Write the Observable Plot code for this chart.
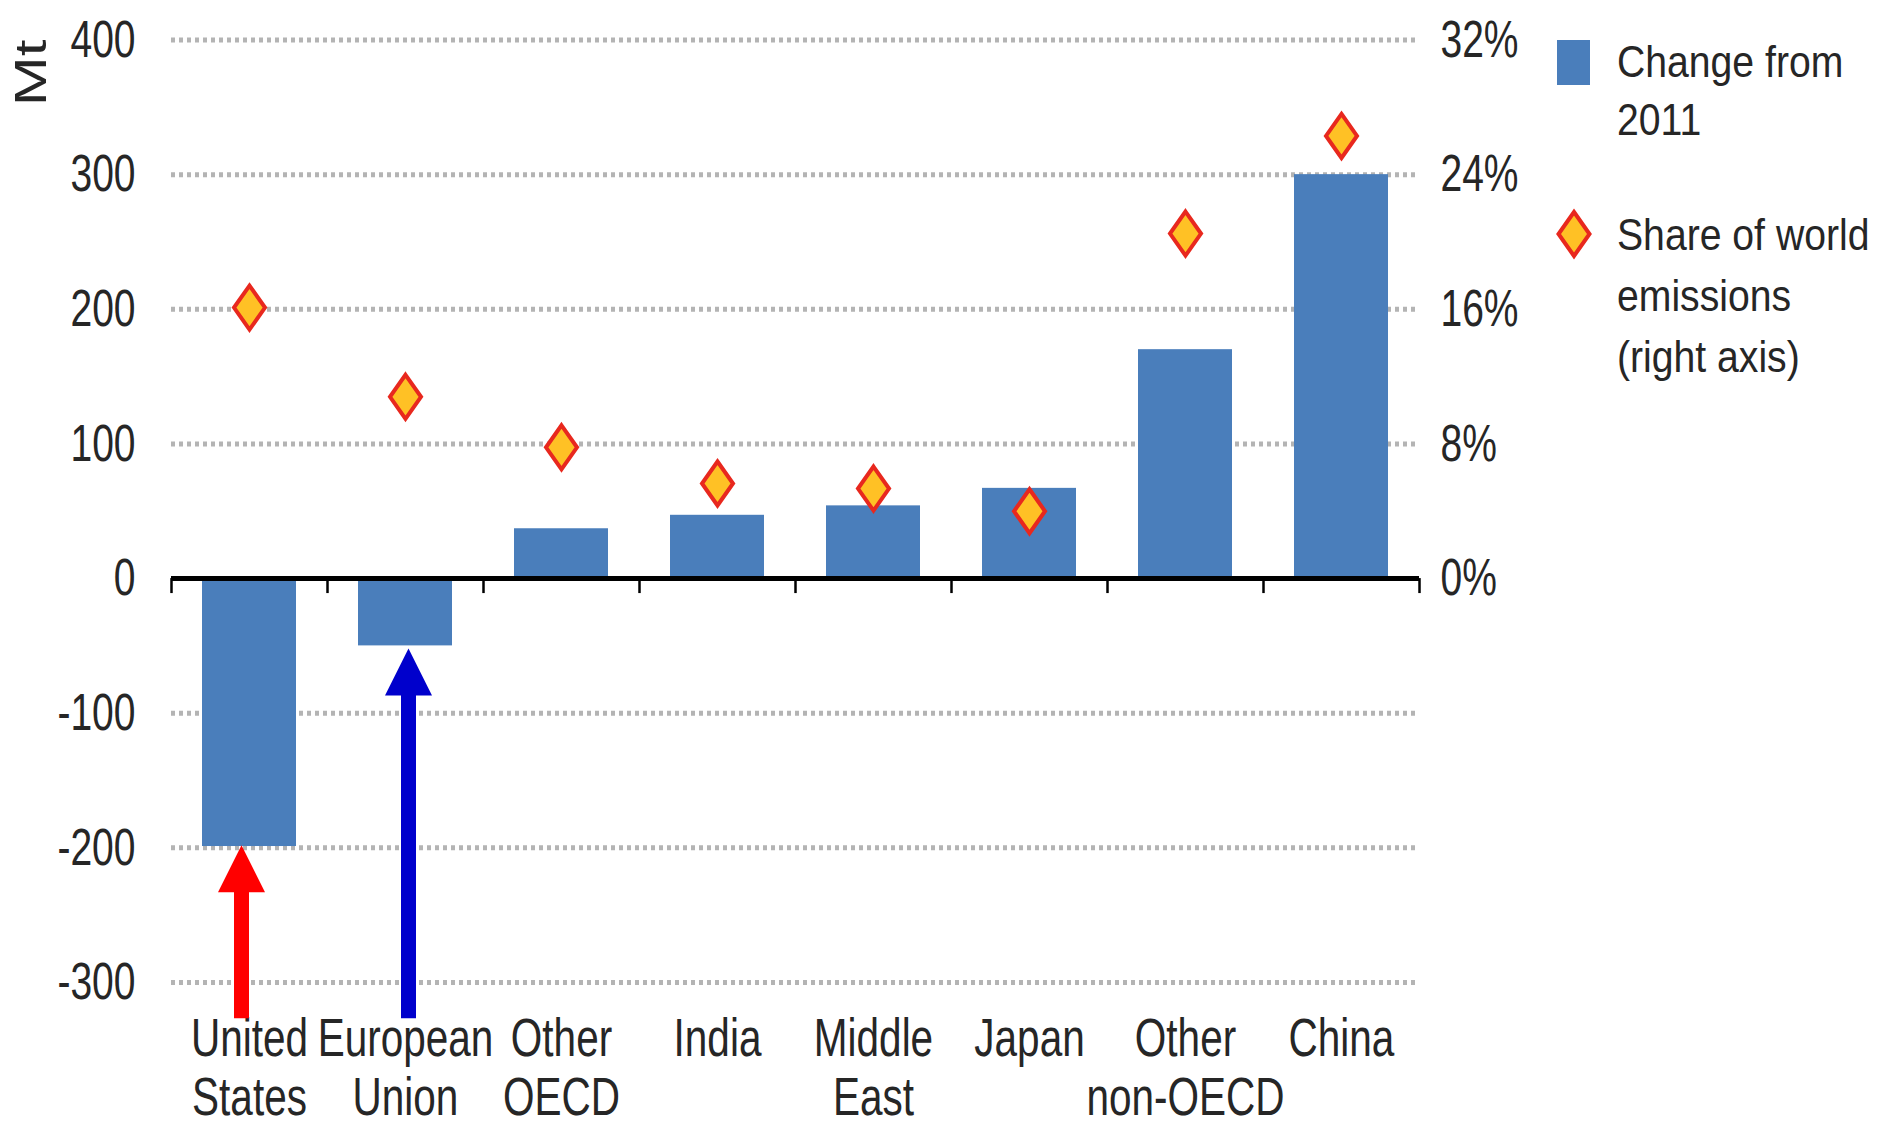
<!DOCTYPE html>
<html><head><meta charset="utf-8">
<script src="https://cdn.jsdelivr.net/npm/d3@7"></script>
<script src="https://cdn.jsdelivr.net/npm/@observablehq/plot@0.6"></script>
<style>
body{margin:0;background:#fff;}
#wrap{display:flex;width:1878px;height:1123px;}
#legend{width:338px;height:1123px;}
</style></head><body><div id="wrap"><div id="chart"></div><div id="legend"></div></div>
<script>
const regions = ["United States","European Union","Other OECD","India","Middle East","Japan","Other non-OECD","China"];
const regionLabels = ["United\nStates","European\nUnion","Other\nOECD","India","Middle\nEast","Japan","Other\nnon-OECD","China"];
const changeMt = [-199, -50, 37, 47, 54, 67, 170, 300];
const sharePct = [16.1, 10.8, 7.8, 5.65, 5.35, 4.0, 20.5, 26.3];
const leftTicks = [-300, -200, -100, 0, 100, 200, 300, 400];
const rightTicks = [0, 8, 16, 24, 32];
const arrowRegions = ["United States", "European Union"];
const arrowFrom = [-327, -327];
const arrowTo = [-198, -52];
const arrowColors = ["#FF0000", "#0000CC"];
const legendLabels = [["Change from", "2011"], ["Share of world", "emissions", "(right axis)"]];

const FONT = '"Liberation Sans",Arial,sans-serif';
const BLUE = "#4A7EBB", GOLD = "#FFC125", RED = "#E8281E";
const W = 1540, H = 1123, mL = 171, mR = W - 1419, mT = 39.5, mB = 141;
const step = (W - mL - mR) / regions.length;
const mtPerPct = 400 / 32;
const pxPerMt = (H - mT - mB) / 700;
const SQUEEZE = 0.75;

const data = regions.map((r, i) => ({region: r, label: regionLabels[i], change: changeMt[i], share: sharePct[i]}));
const arrows = arrowRegions.map((r, i) => ({region: r, from: arrowFrom[i], to: arrowTo[i], color: arrowColors[i], dx: i === 0 ? -8 : 3}));
const labelOf = new Map(data.map(d => [d.region, d.label]));

const diamond = {draw(ctx) { ctx.moveTo(0, -22); ctx.lineTo(15.5, 0); ctx.lineTo(0, 22); ctx.lineTo(-15.5, 0); ctx.closePath(); }};
const head = {draw(ctx) { ctx.moveTo(0, 0); ctx.lineTo(23.5, 47); ctx.lineTo(-23.5, 47); ctx.closePath(); }};
const headMt = 47 / pxPerMt;

const arrowMarks = arrows.flatMap(a => [
  Plot.ruleX([a], {x: "region", y1: "from", y2: d => d.to - headMt + 2 / pxPerMt, stroke: a.color, strokeWidth: 15, dx: a.dx}),
  Plot.dot([a], {x: "region", y: "to", symbol: head, fill: a.color, stroke: "none", dx: a.dx})
]);

const chart = Plot.plot({
  width: W, height: H,
  marginLeft: mL, marginRight: mR, marginTop: mT, marginBottom: mB,
  style: {fontFamily: FONT, fontSize: "52px", color: "#262626", background: "#fff"},
  x: {domain: regions, paddingInner: 0.4, paddingOuter: 0.2},
  y: {domain: [-300, 400]},
  marks: [
    Plot.gridY(leftTicks.filter(d => d !== 0), {stroke: "#b4b4b4", strokeOpacity: 1, strokeWidth: 5, strokeDasharray: "4,4"}),
    Plot.axisY(leftTicks, {anchor: "left", tickSize: 0, tickPadding: 36, fontSize: 52, label: null, tickFormat: d => String(d)}),
    Plot.axisY(rightTicks.map(d => d * mtPerPct), {anchor: "right", tickSize: 0, tickPadding: 21, fontSize: 52, label: null, tickFormat: d => Math.round(d / mtPerPct) + "%"}),
    Plot.axisX({anchor: "bottom", tickSize: 0, tickPadding: 32, fontSize: 54, lineHeight: 59 / 54, label: null, tickFormat: d => labelOf.get(d)}),
    Plot.text(["Mt"], {frameAnchor: "top-left", textAnchor: "middle", lineAnchor: "middle", rotate: -90, dx: -140, dy: 33, fontSize: 60, fill: "#262626", className: "mt-label"}),
    Plot.barY(data, {x: "region", y: "change", fill: BLUE}),
    Plot.ruleY([0], {stroke: "#000", strokeWidth: 5}),
    Plot.ruleX(data, {x: "region", y1: 0, y2: -15 / pxPerMt, dx: -step / 2, stroke: "#000", strokeWidth: 2.5}),
    Plot.ruleX(data.slice(-1), {x: "region", y1: 0, y2: -15 / pxPerMt, dx: step / 2, stroke: "#000", strokeWidth: 2.5}),
    Plot.dot(data, {x: "region", y: d => d.share * mtPerPct, symbol: diamond, fill: GOLD, stroke: RED, strokeWidth: 4}),
    ...arrowMarks
  ]
});
document.getElementById("chart").appendChild(chart);

// emulate the condensed face of the original: squeeze text along its reading direction
d3.select(chart).selectAll("text").each(function() {
  const t = d3.select(this);
  const tr = t.attr("transform") || "";
  const isMt = this.closest(".mt-label") || t.text() === "Mt";
  t.attr("transform", tr + (isMt ? ` scale(1,${SQUEEZE})` : ` scale(${SQUEEZE},1)`));
});

// legend
const lg = d3.select("#legend").append("svg").attr("width", 338).attr("height", H)
  .style("font-family", FONT).style("font-size", "44px").style("fill", "#262626");
lg.append("rect").attr("x", 17).attr("y", 40).attr("width", 33).attr("height", 45).attr("fill", BLUE);
lg.append("path").attr("transform", "translate(34,234)").attr("d", "M0,-22L15.5,0L0,22L-15.5,0Z")
  .attr("fill", GOLD).attr("stroke", RED).attr("stroke-width", 4);
const baselines = [[77, 135], [250, 311, 372]];
legendLabels.forEach((lines, i) => lines.forEach((t, j) => {
  lg.append("text").attr("transform", `translate(77,${baselines[i][j]}) scale(0.89,1)`).text(t);
}));
</script></body></html>
